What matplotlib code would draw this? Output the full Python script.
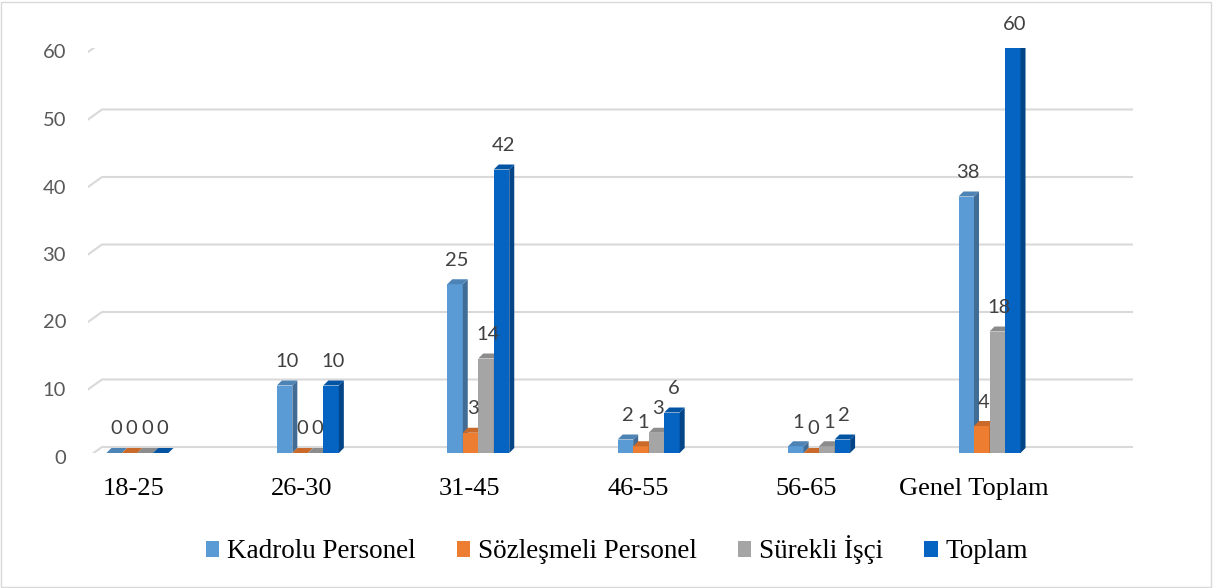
import matplotlib
matplotlib.use('Agg')
import matplotlib.pyplot as plt
import numpy as np
from matplotlib.patches import Polygon, Rectangle, Patch
from matplotlib.lines import Line2D
from matplotlib.transforms import IdentityTransform
from matplotlib.font_manager import FontProperties
import matplotlib.colors as mcolors

# ---- data ----
categories = ['18-25', '26-30', '31-45', '46-55', '56-65', 'Genel Toplam']
series_names = ['Kadrolu Personel', 'Sözleşmeli Personel', 'Sürekli İşçi', 'Toplam']
kadrolu = [0, 10, 25, 2, 1, 38]
sozlesmeli = [0, 0, 3, 1, 0, 4]
surekli = [0, 0, 14, 3, 1, 18]
toplam = [0, 10, 42, 6, 2, 60]
yticks = [0, 10, 20, 30, 40, 50, 60]

series = [kadrolu, sozlesmeli, surekli, toplam]
colors = ['#5B9BD5', '#ED7D31', '#A5A5A5', '#0563C1']

W, H, DPI = 1213, 588, 100
fig = plt.figure(figsize=(W / DPI, H / DPI), dpi=DPI)
fig.patch.set_facecolor('white')
ax = fig.add_axes([88 / W, (H - 453) / H, (1133 - 88) / W, 405 / H])
ax.set_xlim(-0.29, 5.842)
ax.set_ylim(0, 60)
ax.axis('off')

serif = FontProperties(family='Liberation Serif', size=19)
serif_leg = FontProperties(family='Liberation Serif', size=19.5)

ID = IdentityTransform()
def to_px(x, y):
    return ax.transData.transform((x, y))

GRID = '#D9D9D9'
x0_px = ax.transAxes.transform((0, 0))[0]
x1_px = ax.transAxes.transform((1, 0))[0]
for v in yticks:
    yp = to_px(0, v)[1]
    ln = Line2D([x0_px, x0_px + 14, x1_px], [yp - 4, yp + 6, yp + 6],
                transform=ID, color=GRID, lw=1.5, zorder=1)
    ax.add_artist(ln)
    ax.annotate(str(v), xy=(0, v), xycoords=ax.get_yaxis_transform(),
                xytext=(-22, -5), textcoords='offset pixels', ha='right', va='center',
                fontsize=14.5, color='#595959', family='Lato', annotation_clip=False)

x = np.arange(len(categories))
bw = 15.5 / 170.4
depth = 5

def shade(c, f):
    r, g, b = mcolors.to_rgb(c)
    return (r * f, g * f, b * f)

for s, (vals, col) in enumerate(zip(series, colors)):
    pos = x + (s - 1.5) * bw
    ax.bar(pos, vals, width=bw, color=col, zorder=3 + s, linewidth=0)
    for p, v in zip(pos, vals):
        (xl, yb) = to_px(p - bw / 2, 0)
        (xr, yt) = to_px(p + bw / 2, v)
        side = Polygon([(xr, yb), (xr + depth, yb + depth), (xr + depth, yt + depth), (xr, yt)],
                       closed=True, transform=ID, facecolor=shade(col, 0.7), edgecolor='none',
                       zorder=3 + s)
        top = Polygon([(xl, yt), (xl + depth, yt + depth), (xr + depth, yt + depth), (xr, yt)],
                      closed=True, transform=ID, facecolor=shade(col, 0.85), edgecolor='none',
                      zorder=3 + s)
        ax.add_artist(side)
        ax.add_artist(top)
        ax.annotate(str(v), xy=(p, v), xytext=(2, 24), textcoords='offset pixels',
                    ha='center', va='center', fontsize=14.5, color='#404040', family='Lato',
                    zorder=10, annotation_clip=False)

for i, c in enumerate(categories):
    lx = i * 0.987 - 0.025
    ax.annotate(c, xy=(lx, 0), xytext=(0, -36), textcoords='offset pixels',
                ha='center', va='center', fontproperties=serif,
                color='black', annotation_clip=False)

handles = [Patch(facecolor=c, edgecolor='none') for c in colors]
leg = fig.legend(handles, series_names, loc='center', bbox_to_anchor=(617 / W, 1 - 550 / H),
                 ncol=4, frameon=False, prop=serif_leg,
                 handlelength=0.5, handleheight=0.5, handletextpad=0.3, columnspacing=1.5)

fig.add_artist(Rectangle((1 / W, 1 / H), (W - 3) / W, (H - 3) / H, transform=fig.transFigure,
                         fill=False, edgecolor='#D9D9D9', lw=1))

fig.savefig('out.png', dpi=DPI, facecolor='white')
